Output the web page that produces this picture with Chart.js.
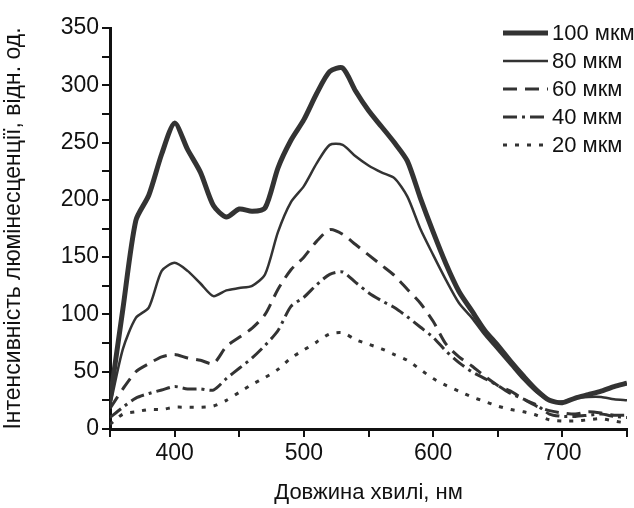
<!DOCTYPE html>
<html>
<head>
<meta charset="utf-8">
<script src="https://cdn.jsdelivr.net/npm/chart.js@4.4.1/dist/chart.umd.min.js"></script>
<style>
  html, body { margin: 0; padding: 0; background: #fff; }
  #wrap { width: 634px; height: 508px; }
</style>
</head>
<body>
<div id="wrap"><canvas id="spectra" width="634" height="508"></canvas></div>
<script>
// Довжина хвилі, нм
const wavelength = [350, 360, 370, 380, 390, 400, 410, 420, 430, 440, 450, 460, 470, 480, 490, 500,
  510, 520, 530, 540, 550, 560, 570, 580, 590, 600, 610, 620, 630, 640, 650, 660, 670, 680, 690, 700,
  710, 720, 730, 740, 750];

// Інтенсивність, відн. од.
const i100 = [25, 105, 182, 204, 240, 267, 244, 224, 195, 185, 192, 190, 193, 228, 252, 270,
  293, 312, 315, 295, 278, 264, 250, 234, 202, 172, 144, 120, 103, 86, 73, 59, 46, 34, 25, 23,
  27, 30, 33, 37, 40];
const i80 = [20, 70, 97, 106, 138, 145, 138, 127, 116, 121, 123, 125, 135, 172, 198, 212,
  232, 248, 248, 238, 230, 224, 219, 203, 175, 152, 130, 110, 97, 82, 69, 56, 43, 32, 25, 24,
  27, 28, 28, 26, 25];
const i60 = [18, 35, 50, 57, 63, 65, 62, 60, 57, 72, 80, 88, 100, 122, 139, 150,
  164, 174, 170, 161, 152, 143, 134, 122, 110, 94, 74, 63, 55, 46, 38, 33, 26, 20, 16, 14,
  13, 15, 14, 12, 12];
const i40 = [10, 19, 27, 31, 34, 37, 35, 35, 34, 44, 53, 62, 73, 86, 107, 115,
  126, 135, 137, 128, 119, 112, 106, 98, 89, 80, 68, 58, 50, 44, 38, 31, 26, 21, 13, 11,
  11, 12, 13, 11, 10];
const i20 = [4, 13, 15, 17, 17, 19, 19, 19, 20, 25, 32, 39, 45, 52, 62, 69,
  76, 83, 84, 78, 74, 70, 65, 60, 52, 44, 38, 33, 28, 24, 20, 17, 15, 12, 8, 7,
  7, 8, 9, 7, 5];

const seriesNames = ['100 мкм', '80 мкм', '60 мкм', '40 мкм', '20 мкм'];
const seriesValues = [i100, i80, i60, i40, i20];
const lineWidths = [5, 2.5, 3, 3, 3];
const dashes = [[], [], [14, 8], [14, 5, 3, 5], [4, 8]];

const lineColor = '#333333';
const axisColor = '#111111';
const fontFamily = "'Liberation Sans', Arial, sans-serif";

const datasets = seriesNames.map((name, k) => ({
  label: name,
  data: wavelength.map((w, i) => ({ x: w, y: seriesValues[k][i] })),
  borderColor: lineColor,
  borderWidth: lineWidths[k],
  borderDash: dashes[k],
  pointRadius: 0,
  tension: 0.25,
  fill: false
}));

// Легенда праворуч угорі
const legendPlugin = {
  id: 'sideLegend',
  afterDraw(chart) {
    const ctx = chart.ctx;
    ctx.save();
    chart.data.datasets.forEach((ds, k) => {
      const y = 33 + k * 28;
      ctx.beginPath();
      ctx.strokeStyle = ds.borderColor;
      ctx.lineWidth = ds.borderWidth;
      ctx.setLineDash(ds.borderDash);
      ctx.moveTo(503, y);
      ctx.lineTo(548, y);
      ctx.stroke();
      ctx.setLineDash([]);
      ctx.fillStyle = axisColor;
      ctx.font = '22px ' + fontFamily;
      ctx.textBaseline = 'middle';
      ctx.textAlign = 'left';
      ctx.fillText(ds.label, 552, y + 1);
    });
    ctx.restore();
  }
};

new Chart(document.getElementById('spectra'), {
  type: 'line',
  data: { datasets: datasets },
  plugins: [legendPlugin],
  options: {
    responsive: false,
    animation: false,
    layout: { padding: { top: 28, right: 7, left: 0, bottom: 0 } },
    plugins: {
      legend: { display: false },
      tooltip: { enabled: false }
    },
    scales: {
      x: {
        type: 'linear',
        min: 350,
        max: 750,
        afterFit(scale) { scale.height = 79; },
        border: { display: true, color: axisColor, width: 3 },
        grid: { drawOnChartArea: false, drawTicks: true, tickLength: 8, color: axisColor, lineWidth: 2 },
        ticks: {
          stepSize: 50,
          autoSkip: false,
          maxRotation: 0,
          color: axisColor,
          font: { family: fontFamily, size: 23 },
          padding: 3,
          callback: v => (v % 100 === 0 && v >= 400 && v <= 700) ? v : ''
        },
        title: {
          display: true,
          text: 'Довжина хвилі, нм',
          color: axisColor,
          font: { family: fontFamily, size: 22 },
          padding: { top: 8, bottom: 2 }
        }
      },
      y: {
        min: 0,
        max: 350,
        afterFit(scale) { scale.width = 110; },
        border: { display: true, color: axisColor, width: 3 },
        grid: { drawOnChartArea: false, drawTicks: true, tickLength: 8, color: axisColor, lineWidth: 2 },
        ticks: {
          stepSize: 25,
          autoSkip: false,
          color: axisColor,
          font: { family: fontFamily, size: 23 },
          padding: 3,
          callback: v => v % 50 === 0 ? v : ''
        },
        title: {
          display: true,
          text: 'Інтенсивність люмінесценції, відн. од.',
          color: axisColor,
          font: { family: fontFamily, size: 23 },
          padding: { top: 0, bottom: 3 }
        }
      }
    }
  }
});
</script>
</body>
</html>
